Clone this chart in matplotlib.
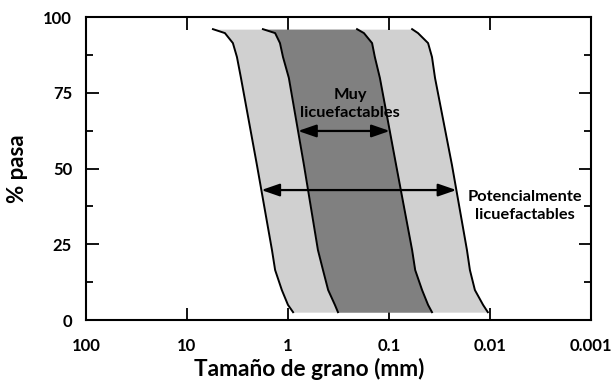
import numpy as np
import matplotlib
matplotlib.use("Agg")
import matplotlib.pyplot as plt

plt.rcParams['font.family'] = ['Lato', 'DejaVu Sans']

# % pasa levels shared by the four boundary curves
pasa = [96.0, 94.7, 91.4, 86.8, 79.9, 51.2, 23.1, 16.5, 9.9, 5.0, 2.6]

# grain sizes (mm) of each boundary, coarse to fine
limite_grueso = [5.53, 4.21, 3.51, 3.20, 2.92, 2.03, 1.44, 1.34, 1.15, 1.00, 0.89]
muy_grueso = [1.77, 1.34, 1.20, 1.12, 0.98, 0.695, 0.505, 0.45, 0.40, 0.343, 0.32]
muy_fino = [0.207, 0.177, 0.147, 0.138, 0.123, 0.085, 0.059, 0.055, 0.047, 0.041, 0.0375]
limite_fino = [0.059, 0.0516, 0.041, 0.0375, 0.035, 0.0238, 0.0169, 0.0158, 0.0141, 0.0117, 0.0105]

xticks = [100, 10, 1, 0.1, 0.01, 0.001]
xticklabels = ['100', '10', '1', '0.1', '0.01', '0.001']
yticks = [0, 25, 50, 75, 100]

nivel_muy = 62.4
nivel_pot = 42.9


def x_at(curve, level):
    # interpolate curve (in log space) at a given % pasa
    p = np.array(pasa)[::-1]
    c = np.log10(np.array(curve))[::-1]
    return 10 ** np.interp(level, p, c)


fig = plt.figure(figsize=(6.14, 3.87), dpi=100)
ax = fig.add_axes([0.140, 0.173, 0.8225, 0.783])

ax.fill_betweenx(pasa, limite_grueso, limite_fino, color='#d0d0d0', lw=0, zorder=1)
ax.fill_betweenx(pasa, muy_grueso, muy_fino, color='#808080', lw=0, zorder=2)
for c in [limite_grueso, muy_grueso, muy_fino, limite_fino]:
    ax.plot(c, pasa, color='black', lw=1.4, zorder=4)

arrow = dict(arrowstyle='<|-|>,head_length=1.1,head_width=0.38', color='black', lw=1.6,
             shrinkA=0, shrinkB=0)
ax.annotate('', xy=(x_at(muy_grueso, nivel_muy), nivel_muy),
            xytext=(x_at(muy_fino, nivel_muy), nivel_muy), arrowprops=arrow, zorder=5)
ax.annotate('', xy=(x_at(limite_grueso, nivel_pot), nivel_pot),
            xytext=(x_at(limite_fino, nivel_pot), nivel_pot), arrowprops=arrow, zorder=5)

ax.text(0.243, 71.3, 'Muy\nlicuefactables', ha='center', va='center', fontsize=11.8,
        fontweight='bold', linespacing=1.3, zorder=3)
ax.text(0.0045, 37.6, 'Potencialmente\nlicuefactables', ha='center', va='center',
        fontsize=11.8, fontweight='bold', linespacing=1.3, zorder=3)

ax.set_xscale('log')
ax.set_xlim(100, 0.001)
ax.set_ylim(0, 100)
ax.set_xticks(xticks)
ax.set_xticklabels(xticklabels)
ax.xaxis.set_minor_locator(matplotlib.ticker.NullLocator())
ax.set_yticks(yticks)
ax.set_yticks([12.5, 37.5, 62.5, 87.5], minor=True)

ax.tick_params(axis='x', which='major', direction='in', length=9, width=1.3,
               top=True, pad=13, labelsize=12)
ax.tick_params(axis='y', which='major', direction='in', length=9, width=1.3,
               right=True, pad=10, labelsize=12)
ax.tick_params(axis='y', which='minor', direction='in', length=5, width=1.3, right=True)
for lab in ax.get_xticklabels() + ax.get_yticklabels():
    lab.set_fontweight('bold')

for s in ax.spines.values():
    s.set_linewidth(1.5)

ax.set_xlabel('Tamaño de grano (mm)', fontsize=16.3, fontweight='bold')
ax.xaxis.set_label_coords(0.442, -0.125)
ax.set_ylabel('% pasa', fontsize=16, fontweight='bold')
ax.yaxis.set_label_coords(-0.115, 0.5)

fig.savefig('out.png', dpi=100)
